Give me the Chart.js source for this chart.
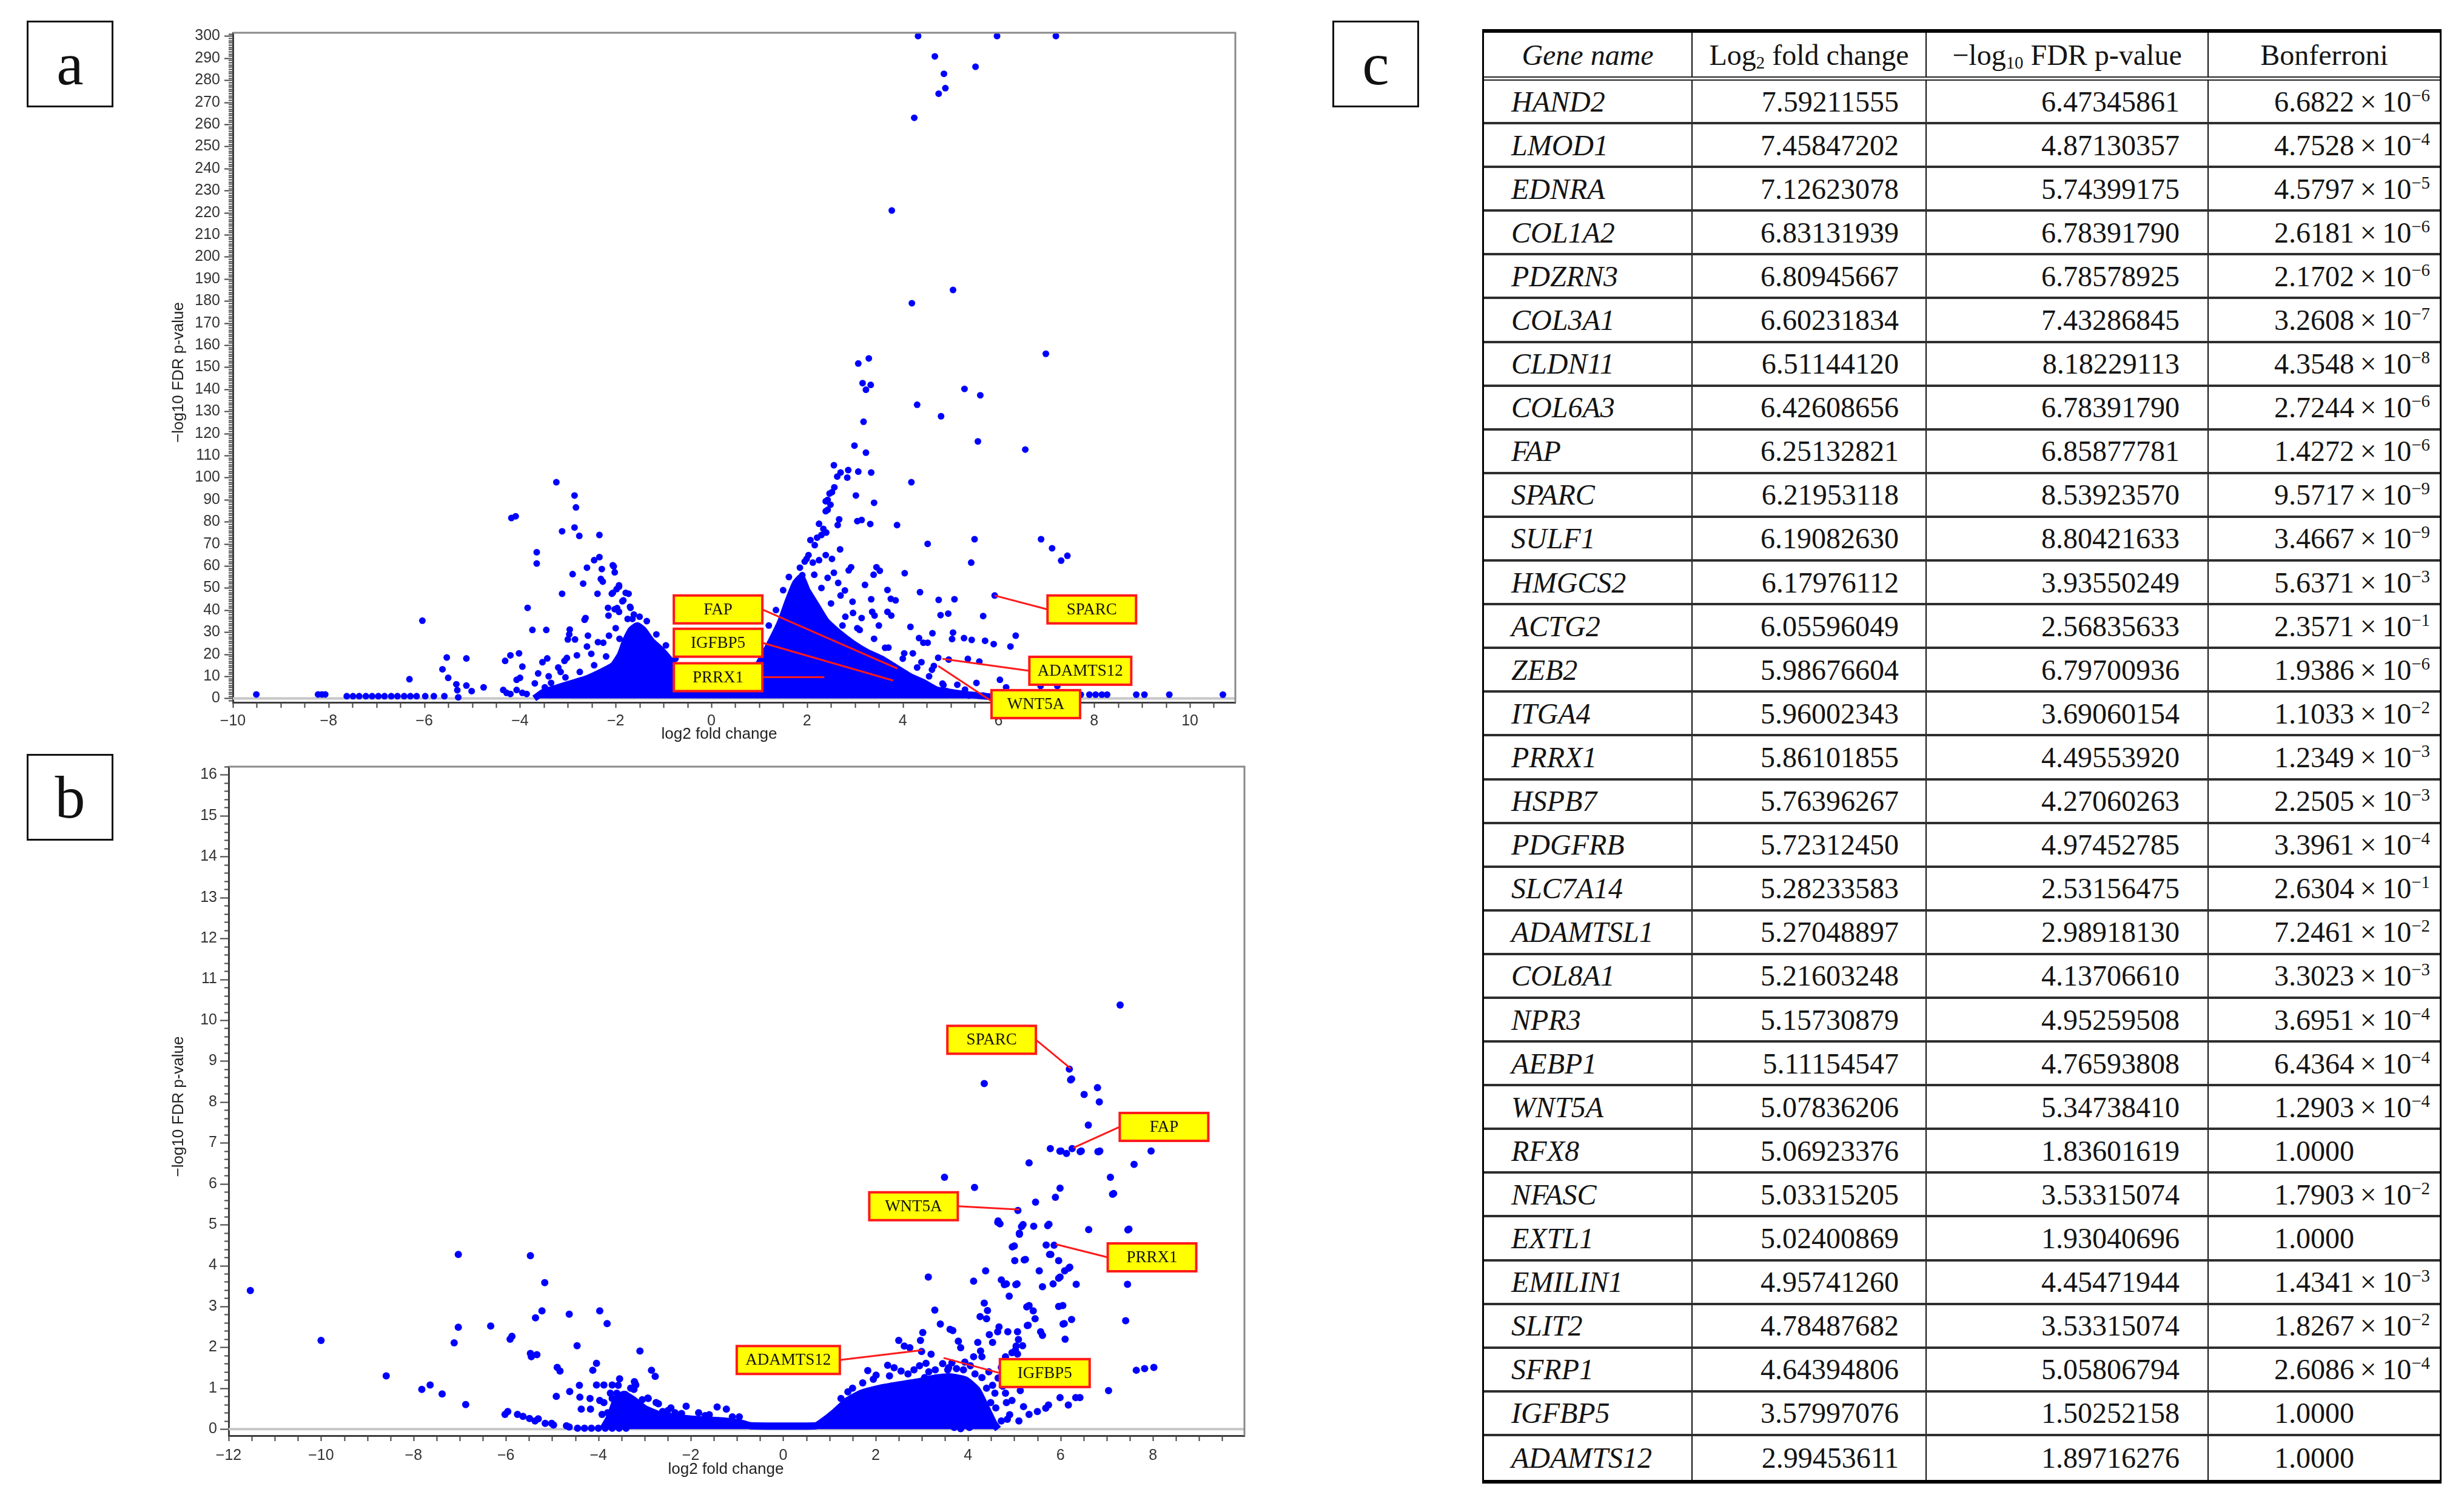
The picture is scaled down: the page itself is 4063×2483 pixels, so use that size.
<!DOCTYPE html>
<html>
<head>
<meta charset="utf-8">
<script src="https://cdn.jsdelivr.net/npm/chart.js@4.4.1/dist/chart.umd.min.js"></script>
<style>
  body { margin: 0; width: 4063px; height: 2483px; background: #fff; position: relative; overflow: hidden; }
  canvas { position: absolute; }
  .tag { position: absolute; width: 137px; height: 137px; border: 3px solid #111; background: #fff;
         font-family: "Liberation Serif", "Times New Roman", serif; font-size: 100px; line-height: 1;
         display: flex; align-items: center; justify-content: center; color: #111; }
  #tbl { position: absolute; left: 2444px; top: 48px; width: 1582px; box-sizing: border-box;
         border-top: 6px solid #000; border-bottom: 6px solid #000; border-left: 3px solid #000; border-right: 3px solid #000;
         font-family: "Liberation Serif", "Times New Roman", serif; font-size: 48px; color: #141414; background: #fff; }
  .row { display: flex; height: 72.1px; box-sizing: border-box; border-bottom: 4px solid #2e2e2e; }
  .row.head { height: 79px; border-bottom: 7px double #222; }
  .row.last { border-bottom: none; }
  .cell { box-sizing: border-box; display: flex; align-items: center; white-space: nowrap; overflow: hidden; border-right: 2px solid #111; }
  .cell:last-child { border-right: none; }
  .c1 { width: 344px; padding-left: 45px; font-style: italic; }
  .c2 { width: 386px; justify-content: flex-end; padding-right: 44px; }
  .c3 { width: 465px; justify-content: flex-end; padding-right: 46px; }
  .c4 { flex: 1; padding-left: 108px; }
  .head .cell { justify-content: center; padding: 0; }
  .head .c1 { font-style: italic; }
  sub { font-size: 0.6em; vertical-align: -0.2em; line-height: 0; }
  sup { font-size: 0.6em; vertical-align: 0.6em; line-height: 0; }
</style>
</head>
<body>
<div class="tag" style="left:44px;top:34px">a</div>
<div class="tag" style="left:44px;top:1243px">b</div>
<div class="tag" style="left:2197px;top:34px">c</div>
<canvas id="chartA" width="1900" height="1250" style="left:200px;top:0px"></canvas>
<canvas id="chartB" width="1900" height="1253" style="left:200px;top:1230px"></canvas>
<div id="tbl"></div>
<script>
// ---------- panel a (log2 fold change, -log10 FDR p-value) ----------
const aXTicks = [-10, -8, -6, -4, -2, 0, 2, 4, 6, 8, 10];
const aYTicks = [0, 10, 20, 30, 40, 50, 60, 70, 80, 90, 100, 110, 120, 130, 140, 150, 160, 170, 180, 190, 200,
                 210, 220, 230, 240, 250, 260, 270, 280, 290, 300];
const aPoints = [
  [4.32,300],[5.97,300],[7.2,300],[4.67,290.8],[5.52,286.1],[4.86,282.9],[4.89,276.4],[4.75,273.9],[4.24,263],
  [3.77,221],[5.05,185],[4.19,179],[6.99,156.1],[3.29,154],[3.07,151.7],[3.16,142.8],[3.33,142],[3.23,139.8],
  [5.29,140.2],[5.62,137.3],[4.3,133],[4.8,127.8],[3.18,125.3],
  [5.57,116.4],[6.56,112.7],[2.99,114.5],[3.23,111.3],[2.56,105.6],[2.7,102.3],[2.63,100.5],[2.86,103.4],
  [2.84,100],[3.07,102.7],[3.34,102.3],[4.18,97.9],
  [2.57,95.6],[2.52,93.4],[2.47,92.8],[2.43,89.9],[2.39,89.3],[2.49,87.7],[2.43,85.4],[2.39,84.8],[2.67,81.1],
  [2.64,78.5],[2.25,79.1],[2.34,76.8],[2.3,74],[2.21,72.8],[2.4,75.1],[2.07,71.7],[2.16,69.4],[2.03,64.9],
  [1.99,63.2],[2.12,61.5],[2.25,62.6],[2.39,64.9],[2.52,63.2],[2.56,56.9],[2.43,54.6],[2.65,52.3],[2.79,48.9],
  [2.7,46.6],[1.85,59.2],[1.9,55.8],[1.76,51.2],[1.72,46.6],[1.63,43.2],
  [3.02,91.9],[3.4,88.6],[3.14,80.8],[3.05,80.3],[3.32,79],[3.88,78.5],[5.5,72.1],[4.52,70],[6.89,72.1],
  [7.12,68],[7.44,64.6],[7.31,62.4],[5.43,61.5],[2.69,67.5],[2.92,59.4],[2.87,58],[3.45,59.4],[3.52,57.8],
  [3.39,56],[4.04,56.7],[3.21,51.4],[3.68,49.1],[4.36,48.1],[3.34,44.9],[3.75,45.1],[3.85,44.4],[2.95,43.8],
  [4.75,44.6],[5.08,44.9],[5.92,46.6],[4.79,37.7],[4.95,38.4],[5.68,37.3],[3.36,39.2],[3.41,37.5],[3.68,39.2],
  [3.76,37.5],[2.96,38.7],[3.14,36.4],[2.74,33],[3.05,31.8],[3.5,33],[4.16,32.4],[4.62,29.5],[5.05,29.8],
  [6.36,28.4],[4.34,27.3],[4.43,25.2],[4.52,25.2],[5.03,26.9],[5.28,27.3],[5.44,26.5],[5.72,26.1],[5.9,24.6],
  [6.25,23.5],[3.63,22.9],[4.03,20.4],[4.21,20.4],[4.74,18.4],[4.96,17.6],[5.36,17.9],[5.6,16.7],[4.39,16.4],
  [4.65,14.7],[4.61,13],[6.03,8.4],[6.16,5],[6.88,5.6],[7.23,5.6],[5.14,6.2],[5.54,7],[5.38,1.3],[5.68,1.3],
  [4.92,3.3],[4.83,6.7],[4.21,9],[4.03,6.7],[3.94,3.3],[4.39,3.3],
  [7.72,1.7],[7.9,1.7],[8.03,1.7],[8.16,1.7],[8.27,1.7],[8.88,1.7],[9.05,1.7],[9.57,1.7],[10.69,1.7],
  [7.45,1.7],[7.6,1.7],[6.5,1.5],[6.7,1.5],
  [1.2,33],[1.35,40],[1.5,49],[1.62,55],[1.95,62],[2.15,56],[2.3,50],[2.5,43],[2.8,37],[3.1,31],[3.4,27],
  [3.7,23],[4.0,18],[4.3,14],[4.55,10],[4.85,6],[5.3,4],[-1.65,36],[-1.5,37],[-1.35,35],[-1.15,29],[-0.95,24],
  [-0.75,18],[-0.55,12],[-0.35,7],[-1.92,27],[-2.2,19],[-2.45,15],[-2.75,12],[-3.05,9.5],[-3.35,7],
  [-9.51,1.8],[-8.22,1.8],[-8.14,1.8],[-8.07,1.8],
  [-7.62,1],[-7.49,1],[-7.36,1],[-7.22,1],[-7.09,1],[-6.96,1],[-6.83,1],[-6.69,1],[-6.56,1],[-6.42,1],
  [-6.29,1],[-6.16,1],[-5.98,1],[-5.8,1],[-5.58,1],
  [-6.04,35.2],[-6.31,8.7],[-5.62,13.2],[-5.53,18.5],[-5.5,9.3],[-5.33,6.4],[-5.31,3.7],[-5.29,0.5],
  [-5.12,18.1],[-5.12,5.8],[-5.01,3.3],[-4.76,5],[-4.31,17],[-4.2,19.5],[-4.02,20.4],[-4.35,3.8],[-4.28,2.5],
  [-4.2,2],[-4.07,3.8],[-3.95,2.5],[-3.86,2],[-4.07,8.4],[-4,9.3],[-3.95,14.4],[-3.84,41],[-4.18,81.7],
  [-4.09,82.5],[-3.74,31],[-3.65,66.2],[-3.65,61.1],[-3.69,6.8],[-3.62,11.3],[-3.53,16.4],[-3.45,31],
  [-3.43,18.1],[-3.4,10],[-3.48,5],[-3.24,97.9],[-3.12,75.7],[-3.12,47.4],[-3.2,14],[-3.15,12],[-2.86,91.9],
  [-2.83,86.5],[-2.86,77.4],[-2.76,73.6],[-2.9,56.3],[-2.68,52],[-2.96,31.2],[-2.97,29],[-3,26.7],[-2.85,26.7],
  [-2.81,19.5],[-3.02,18.3],[-3.07,17],[-2.65,35.6],[-2.63,36.4],[-2.58,28.4],[-2.6,23.5],[-2.51,20.2],
  [-2.6,59.2],[-2.45,62.6],[-2.34,64],[-2.34,74],[-2.29,58.6],[-2.31,54.1],[-2.27,52.9],[-2.38,47.4],
  [-2.37,25.5],[-2.26,25.2],[-2.04,59.8],[-2.02,57.1],[-2.16,41],[-2.02,40.4],[-1.93,39.2],[-2.08,47.4],
  [-1.98,49.5],[-1.93,50.6],[-2,31.8],[-2.14,28.4],[-2.06,60.3],[-1.93,51.2],[-2.06,47.8],[-1.79,47.8],
  [-1.84,44.4],[-1.7,41.5],[-1.97,40.9],[-2.15,37.5],[-1.86,44],[-1.73,47.4],[-1.69,41],[-1.62,38],[-1.75,36]
];
// outline of the solid mass of overlapping dots
const aCloud = [
  [-3.7,0],[-3.5,3],[-3.2,5],[-2.9,7],[-2.6,9],[-2.3,12],[-2.05,15],[-1.9,20],[-1.8,26],[-1.68,31],
  [-1.55,33],[-1.42,31],[-1.25,26],[-1.05,22],[-0.85,17],[-0.65,11],[-0.45,7],[-0.25,4],[0,3],[0.3,3],
  [0.6,5],[0.85,11],[1.05,18],[1.25,26],[1.45,35],[1.6,44],[1.75,52],[1.88,55],[2.0,49],[2.2,42],[2.4,35],
  [2.65,30],[2.95,25],[3.25,21],[3.55,18],[3.85,14],[4.15,10],[4.45,7],[4.7,4],[5.1,2.5],[5.6,1.2],[6,0.4],[6.2,0]
];
const aLabelGenes = ["FAP", "IGFBP5", "PRRX1", "SPARC", "ADAMTS12", "WNT5A"];
const aLabelX = [3.89, 3.80, 2.36, 5.92, 4.83, 4.74];
const aLabelY = [13.5, 8.1, 9.6, 46.6, 17.9, 14.7];

// ---------- panel b ----------
const bXTicks = [-12, -10, -8, -6, -4, -2, 0, 2, 4, 6, 8];
const bYTicks = [0, 1, 2, 3, 4, 5, 6, 7, 8, 9, 10, 11, 12, 13, 14, 15, 16];
const bPoints = [
  [-11.53,3.39],[-10,2.17],[-8.59,1.3],[-7.82,0.97],[-7.64,1.08],[-7.38,0.86],[-6.87,0.6],[-7.12,2.11],
  [-7.03,4.27],[-7.03,2.49],[-6.33,2.52],[-5.91,2.2],[-5.87,2.27],[-5.47,4.24],[-5.16,3.58],[-5.22,2.89],
  [-5.36,2.72],[-5.47,1.85],[-5.45,1.77],[-5.33,1.82],[-6.02,0.36],[-5.96,0.43],[-5.75,0.36],[-5.63,0.31],
  [-5.49,0.26],[-5.37,0.2],[-5.3,0.25],[-5.15,0.14],[-5.01,0.14],[-4.97,0.1],[-4.89,1.51],[-4.83,1.42],
  [-4.91,0.8],[-4.69,0.08],[-4.63,0.05],[-4.63,2.81],[-4.62,0.92],[-4.46,2.04],[-4.41,1.07],[-4.4,0.78],
  [-4.37,0.49],[-4.45,0.02],[-4.3,0.02],[-4.15,0.02],[-4,0.02],[-3.85,0.02],[-3.7,0.02],[-3.55,0.02],[-3.4,0.02],
  [-4.17,0.49],[-4.18,0.75],[-4.12,1.44],[-4.04,1.61],[-3.97,2.89],[-3.81,2.58],[-4.04,1.08],[-3.88,1.08],
  [-3.7,1.08],[-3.97,0.7],[-3.88,0.65],[-3.92,0.36],[-3.8,0.4],[-3.74,0.88],[-3.7,0.75],[-3.63,0.62],
  [-3.54,1.23],[-3.57,1.07],[-3.6,0.88],[-3.58,0.49],[-3.42,0.85],[-3.33,0.68],[-3.22,1.16],[-3.19,1.08],
  [-3.1,1.91],[-2.92,0.75],[-2.85,1.44],[-2.77,1.29],[-2.75,0.65],[-3.21,1.13],[-3.23,0.97],[-2.93,0.76],
  [-2.7,0.62],[-2.43,0.52],[-2.1,0.56],[-1.83,0.4],[-1.43,0.54],[-1.23,0.49],[-0.95,0.3],[-1.69,0.33],
  [-2.34,0.4],[-2.61,0.43],[-3.3,1.0],[-3.05,0.72],[-2.5,0.45],[-2.2,0.38],[-1.6,0.35],[-1.1,0.3],
  [7.29,10.37],[4.35,8.45],[6.24,8.56],[6.8,8.35],[6.84,8.0],
  [5.78,6.86],[6.01,6.8],[6.13,6.74],[6.45,6.8],[6.85,6.8],[7.96,6.8],[5.32,6.51],[3.49,6.16],[7.08,6.16],
  [4.14,5.91],[5.99,5.89],[7.15,5.76],[5.89,5.67],[5.46,5.55],[4.65,5.09],[4.69,5.02],[5.19,5.0],[5.42,4.96],
  [5.75,5.01],[6.61,4.88],[7.48,4.89],[5.11,4.79],[5.0,4.48],[5.69,4.5],[5.79,4.27],[5.01,4.12],[5.24,4.15],
  [5.96,4.12],[6.2,3.96],[6.09,3.87],[5.99,3.72],[4.38,3.87],[5.54,3.87],[3.14,3.72],[4.12,3.62],[4.72,3.65],
  [4.83,3.55],[5.06,3.55],[5.61,3.48],[5.84,3.55],[6.34,3.54],[7.45,3.54],[4.89,3.25],[3.28,2.91],[4.35,3.08],
  [4.42,2.9],[4.26,2.75],[4.4,2.7],[5.32,3.02],[5.41,2.89],[5.45,2.7],[5.96,3.0],[6.05,3.02],[6.24,2.68],
  [6.08,2.58],[7.41,2.65],[6.1,2.2],[3.4,2.57],[3.61,2.44],[3.67,2.41],[3.02,2.36],[4.67,2.5],[4.64,2.38],
  [4.86,2.38],[5.07,2.38],[5.3,2.54],[5.57,2.38],[5.61,2.29],[4.46,2.31],[4.53,2.12],[5.09,2.19],[2.5,2.17],
  [2.62,2.03],[2.74,1.99],[2.97,2.17],[3.2,1.83],[3.79,2.15],[3.84,1.99],[4.21,2.12],[4.27,1.91],[4.12,1.77],
  [3.09,1.61],[7.64,1.44],[7.82,1.48],[8.02,1.51],[7.04,0.94],[2.26,1.56],[1.83,1.43],[2.01,1.32],[5.13,0.94],
  [5.99,0.77],[6.17,0.59],[6.33,0.77],[6.42,0.77],[5.74,0.59],[5.68,0.51],[5.5,0.43],[5.32,0.36],[1.4,0.91],
  [1.56,0.75],[1.72,1.13],[2.55,1.42],[2.83,1.45],[3.06,1.26],[3.29,1.45],[3.56,1.45],[3.75,1.48],[3.93,1.64],
  [4.3,1.26],[4.53,1.07],[4.58,0.88],[4.81,0.88],[4.83,0.65],[4.6,0.52],[4.49,0.65],[4.53,0.1],[4.72,0.2],
  [4.85,0.24],[4.21,0.13],[4.03,0.04],[3.84,0.01],[3.7,0.04],[3.56,0.17],[4.3,1.77],[4.72,1.51],[4.81,1.77],
  [4.95,1.87],[5.04,2.03],[5.18,2.04],[5.04,1.58],
  [1.25,0.75],[1.5,1.0],[1.95,1.22],[2.3,1.3],[2.4,1.5],[2.7,1.35],[2.95,1.55],[3.15,1.4],[3.45,1.6],
  [3.65,1.62],[3.9,1.45],[4.05,1.55],[4.15,1.35],[4.4,1.0],[4.45,1.4],[4.65,1.25],[4.75,1.05],[4.95,0.7],
  [5.05,1.15],[5.2,0.55],[4.9,0.35],[5.1,0.2]
];
const bCloud = [
  [-3.9,0],[-3.75,0.3],[-3.6,0.75],[-3.45,0.85],[-3.25,0.72],[-3.0,0.5],[-2.7,0.36],[-2.3,0.28],[-1.8,0.23],
  [-1.3,0.2],[-0.9,0.14],[-0.7,0.08],[0.7,0.08],[0.85,0.18],[1.1,0.4],[1.4,0.7],[1.7,0.88],[2.1,1.0],
  [2.5,1.08],[2.9,1.15],[3.3,1.25],[3.6,1.28],[3.95,1.2],[4.2,0.95],[4.4,0.5],[4.55,0.15],[4.65,0]
];
const bLabelGenes = ["SPARC", "FAP", "WNT5A", "PRRX1", "ADAMTS12", "IGFBP5"];
const bLabelX = [6.22, 6.28, 5.11, 5.90, 3.01, 3.47];
const bLabelY = [8.82, 6.88, 5.37, 4.52, 1.93, 1.74];

// ---------- table c ----------
const geneNames = ["HAND2","LMOD1","EDNRA","COL1A2","PDZRN3","COL3A1","CLDN11","COL6A3","FAP","SPARC","SULF1",
  "HMGCS2","ACTG2","ZEB2","ITGA4","PRRX1","HSPB7","PDGFRB","SLC7A14","ADAMTSL1","COL8A1","NPR3","AEBP1","WNT5A",
  "RFX8","NFASC","EXTL1","EMILIN1","SLIT2","SFRP1","IGFBP5","ADAMTS12"];
const log2FoldChange = [7.59211555,7.45847202,7.12623078,6.83131939,6.80945667,6.60231834,6.51144120,6.42608656,
  6.25132821,6.21953118,6.19082630,6.17976112,6.05596049,5.98676604,5.96002343,5.86101855,5.76396267,5.72312450,
  5.28233583,5.27048897,5.21603248,5.15730879,5.11154547,5.07836206,5.06923376,5.03315205,5.02400869,4.95741260,
  4.78487682,4.64394806,3.57997076,2.99453611];
const negLog10Fdr = [6.47345861,4.87130357,5.74399175,6.78391790,6.78578925,7.43286845,8.18229113,6.78391790,
  6.85877781,8.53923570,8.80421633,3.93550249,2.56835633,6.79700936,3.69060154,4.49553920,4.27060263,4.97452785,
  2.53156475,2.98918130,4.13706610,4.95259508,4.76593808,5.34738410,1.83601619,3.53315074,1.93040696,4.45471944,
  3.53315074,5.05806794,1.50252158,1.89716276];
const bonferroniMant = ["6.6822","4.7528","4.5797","2.6181","2.1702","3.2608","4.3548","2.7244","1.4272","9.5717",
  "3.4667","5.6371","2.3571","1.9386","1.1033","1.2349","2.2505","3.3961","2.6304","7.2461","3.3023","3.6951",
  "6.4364","1.2903","1.0000","1.7903","1.0000","1.4341","1.8267","2.6086","1.0000","1.0000"];
const bonferroniExp = [-6,-4,-5,-6,-6,-7,-8,-6,-6,-9,-9,-3,-1,-6,-2,-3,-3,-4,-1,-2,-3,-4,-4,-4,null,-2,null,-3,-2,-4,null,null];

// ---------- drawing ----------
Chart.defaults.font.family = '"Liberation Sans", Arial, sans-serif';
const BLUE = "#0000ff";
const fmt = v => (v < 0 ? "\u2212" + (-v) : String(v));

const decor = {
  id: "decor",
  beforeDatasetsDraw(chart, args, o) {
    const { ctx, chartArea: a } = chart;
    const p = chart.scales.y.getPixelForValue(0);
    ctx.save();
    ctx.strokeStyle = "#c6c6c6";
    ctx.lineWidth = 4;
    ctx.beginPath(); ctx.moveTo(a.left, p); ctx.lineTo(a.right, p); ctx.stroke();
    ctx.restore();
  },
  afterDraw(chart, args, o) {
    const { ctx, chartArea: a } = chart;
    const x = chart.scales.x, y = chart.scales.y;
    ctx.save();
    ctx.strokeStyle = "#8a8a8a";
    ctx.lineWidth = 3;
    ctx.beginPath(); ctx.moveTo(a.left, a.top); ctx.lineTo(a.right, a.top); ctx.lineTo(a.right, a.bottom); ctx.stroke();

    // tick marks (major + minor)
    ctx.strokeStyle = "#444";
    ctx.lineWidth = 2;
    ctx.beginPath();
    for (let k = Math.ceil(y.min / o.yMinor - 1e-9); k <= Math.floor(y.max / o.yMinor + 1e-9); k++) {
      const v = k * o.yMinor;
      const p = Math.round(y.getPixelForValue(v)) + 0.5;
      const major = Math.abs(v / o.yMajor - Math.round(v / o.yMajor)) < 1e-6;
      ctx.moveTo(a.left - (major ? 14 : 7), p); ctx.lineTo(a.left, p);
    }
    for (let k = Math.ceil(x.min / o.xMinor - 1e-9); k <= Math.floor(x.max / o.xMinor + 1e-9); k++) {
      const p = Math.round(x.getPixelForValue(k * o.xMinor)) + 0.5;
      ctx.moveTo(p, a.bottom); ctx.lineTo(p, a.bottom + 9);
    }
    ctx.stroke();

    // axis titles
    ctx.fillStyle = "#222";
    ctx.font = '26px "Liberation Sans", Arial, sans-serif';
    ctx.textAlign = "center";
    ctx.textBaseline = "middle";
    ctx.fillText("log2 fold change", a.left + o.xTitleX, a.bottom + o.xTitleDy);
    ctx.save();
    ctx.translate(a.left + o.yTitleDx, (a.top + a.bottom) / 2 + o.yTitleDy);
    ctx.rotate(-Math.PI / 2);
    ctx.fillText("\u2212log10 FDR p-value", 0, 0);
    ctx.restore();

    // gene call-outs
    o.genes.forEach((g, i) => {
      const b = o.boxes[i];
      const cx = x.getPixelForValue(b.x), cy = y.getPixelForValue(b.y);
      const w = b.w, h = 46;
      const sx = b.side === "right" ? cx + w / 2 : cx - w / 2;
      const sy = cy + (b.dy || 0);
      ctx.strokeStyle = "#ff1a1a";
      ctx.lineWidth = 3;
      ctx.beginPath(); ctx.moveTo(sx, sy);
      ctx.lineTo(x.getPixelForValue(o.ax[i]), y.getPixelForValue(o.ay[i])); ctx.stroke();
      ctx.fillStyle = "#ffff00";
      ctx.fillRect(cx - w / 2, cy - h / 2, w, h);
      ctx.lineWidth = 4;
      ctx.strokeStyle = "#ff1a1a";
      ctx.strokeRect(cx - w / 2, cy - h / 2, w, h);
      ctx.fillStyle = "#111";
      ctx.font = '27px "Liberation Serif", "Times New Roman", serif';
      ctx.fillText(g, cx, cy + 1);
    });
    ctx.restore();
  }
};

function makeVolcano(id, p) {
  return new Chart(document.getElementById(id), {
    type: "scatter",
    data: {
      datasets: [
        { data: p.points.map(([x, y]) => ({ x, y })), backgroundColor: BLUE, borderWidth: 0,
          pointRadius: p.r, pointHoverRadius: p.r, order: 1 },
        { type: "line", data: p.cloud.map(([x, y]) => ({ x, y })), showLine: true, fill: "origin",
          backgroundColor: BLUE, borderColor: BLUE, borderWidth: 2 * p.r, borderJoinStyle: "round",
          tension: 0.15, pointRadius: 0, order: 2 }
      ]
    },
    options: {
      responsive: false,
      animation: false,
      layout: { padding: p.padding },
      plugins: { legend: { display: false }, tooltip: { enabled: false }, decor: p.decor },
      scales: {
        x: {
          type: "linear", min: p.xMin, max: p.xMax,
          afterBuildTicks: s => { s.ticks = p.xTicks.map(v => ({ value: v })); },
          afterFit: s => { s.height = p.xHeight; },
          grid: { display: true, drawOnChartArea: false, drawTicks: false },
          border: { display: true, color: "#3c3c3c", width: 3 },
          ticks: { padding: p.xPad, color: "#333", font: { size: 25 }, maxRotation: 0, autoSkip: false, callback: fmt }
        },
        y: {
          type: "linear", min: p.yMin, max: p.yMax,
          afterBuildTicks: s => { s.ticks = p.yTicks.map(v => ({ value: v })); },
          afterFit: s => { s.width = p.yWidth; },
          grid: { display: true, drawOnChartArea: false, drawTicks: false },
          border: { display: true, color: "#3c3c3c", width: 3 },
          ticks: { padding: p.yPad, color: "#333", font: { size: 25 }, autoSkip: false, callback: fmt }
        }
      }
    },
    plugins: [decor]
  });
}

makeVolcano("chartA", {
  points: aPoints, cloud: aCloud, r: 5.5,
  xMin: -10, xMax: 10.95, yMin: -1.8, yMax: 301.5, xTicks: aXTicks, yTicks: aYTicks,
  padding: { left: 0, top: 54, right: 63, bottom: 0 }, yWidth: 184, xHeight: 92, xPad: 16, yPad: 21,
  decor: {
    yMinor: 1, yMajor: 10, xMinor: 0.5, yTitleDx: -89, yTitleDy: 8, xTitleX: 802, xTitleDy: 53,
    genes: aLabelGenes, ax: aLabelX, ay: aLabelY,
    boxes: [
      { x: 0.14, y: 40.3, w: 146, side: "right" },
      { x: 0.14, y: 25.2, w: 146, side: "right" },
      { x: 0.14, y: 9.6, w: 146, side: "right" },
      { x: 7.95, y: 40.3, w: 146, side: "left" },
      { x: 7.71, y: 12.5, w: 168, side: "left" },
      { x: 6.78, y: -2.6, w: 146, side: "left", dy: -5 }
    ]
  }
});

makeVolcano("chartB", {
  points: bPoints.concat(log2FoldChange.map((v, i) => [v, negLog10Fdr[i]])), cloud: bCloud, r: 6,
  xMin: -12, xMax: 9.98, yMin: -0.16, yMax: 16.2, xTicks: bXTicks, yTicks: bYTicks,
  padding: { left: 0, top: 26, right: 48, bottom: 0 }, yWidth: 177, xHeight: 116, xPad: 18, yPad: 19,
  decor: {
    yMinor: 0.2, yMajor: 1, xMinor: 0.5, yTitleDx: -82, yTitleDy: 9, xTitleX: 820, xTitleDy: 56,
    genes: bLabelGenes, ax: bLabelX, ay: bLabelY,
    boxes: [
      { x: 4.51, y: 9.52, w: 146, side: "right" },
      { x: 8.24, y: 7.39, w: 146, side: "left" },
      { x: 2.82, y: 5.45, w: 146, side: "right" },
      { x: 7.98, y: 4.20, w: 146, side: "left" },
      { x: 0.11, y: 1.69, w: 170, side: "right" },
      { x: 5.66, y: 1.37, w: 148, side: "left" }
    ]
  }
});

// table
const tbl = document.getElementById("tbl");
const cell = (cls, content) => '<div class="cell ' + cls + '"><span>' + content + '</span></div>';
let html = '<div class="row head">' + cell("c1", "Gene name") + cell("c2", "Log<sub>2</sub> fold change") +
  cell("c3", "\u2212log<sub>10</sub> FDR p-value") + cell("c4", "Bonferroni") + '</div>';
geneNames.forEach((g, i) => {
  const e = bonferroniExp[i];
  const bon = e === null ? bonferroniMant[i] : bonferroniMant[i] + "\u2009\u00d7\u200910<sup>\u2212" + (-e) + "</sup>";
  html += '<div class="row' + (i === geneNames.length - 1 ? " last" : "") + '">' + cell("c1", g) +
    cell("c2", log2FoldChange[i].toFixed(8)) + cell("c3", negLog10Fdr[i].toFixed(8)) + cell("c4", bon) + '</div>';
});
tbl.innerHTML = html;
</script>
</body>
</html>
